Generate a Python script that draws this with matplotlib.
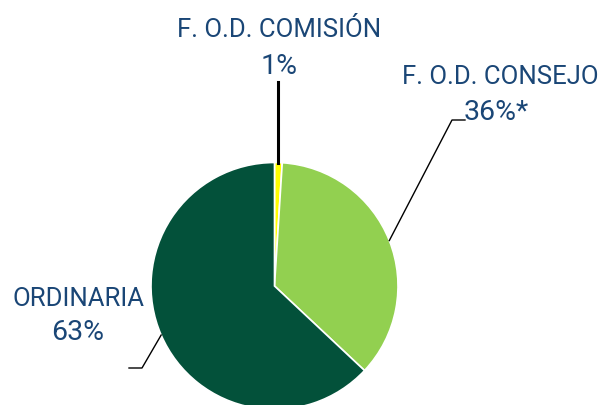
import numpy as np
import matplotlib.pyplot as plt

# data
categories = ["F. O.D. COMISIÓN", "F. O.D. CONSEJO", "ORDINARIA"]
values = [1, 36, 63]
pct_labels = ["1%", "36%*", "63%"]
colors = ["#ffff00", "#92d050", "#03513a"]

text_color = "#1a4676"
W, H = 601, 405

fig = plt.figure(figsize=(W / 100, H / 100), dpi=100)
ax = fig.add_axes([0, 0, 1, 1])

cx, cy, r = 274.5, H - 286, 123.5
wedges, _ = ax.pie(values, colors=colors, startangle=90, counterclock=False,
                   center=(cx, cy), radius=r,
                   wedgeprops=dict(edgecolor="white", linewidth=1.2))
ax.set_xlim(0, W)
ax.set_ylim(0, H)
ax.set_aspect("equal")
ax.axis("off")

plt.rcParams["font.family"] = ["Roboto", "DejaVu Sans"]
tkw = dict(fontsize=18.5, color=text_color, va="center")
pkw = dict(fontsize=20.5, color=text_color, va="center")

# leader lines from wedge mid-angles to labels
for i, w in enumerate(wedges):
    a = np.deg2rad((w.theta1 + w.theta2) / 2)
    px, py = cx + r * np.cos(a), cy + r * np.sin(a)
    if i == 0:
        ax.plot([px, px], [py, H - 82], color="black", lw=2.2)
        ax.text(279, H - 30, categories[0], ha="center", **tkw)
        ax.text(279, H - 66, pct_labels[0], ha="center", **pkw)
    elif i == 1:
        ax.plot([px, 452, 465], [py, H - 120, H - 120], color="black", lw=1)
        ax.text(500, H - 77, categories[1], ha="center", **tkw)
        ax.text(464, H - 112, pct_labels[1], ha="left", **pkw)
    else:
        ax.plot([px, 142, 129], [py, H - 368, H - 368], color="black", lw=1)
        ax.text(78, H - 299, categories[2], ha="center", **tkw)
        ax.text(78, H - 333, pct_labels[2], ha="center", **pkw)

fig.savefig("out.png", dpi=100)
